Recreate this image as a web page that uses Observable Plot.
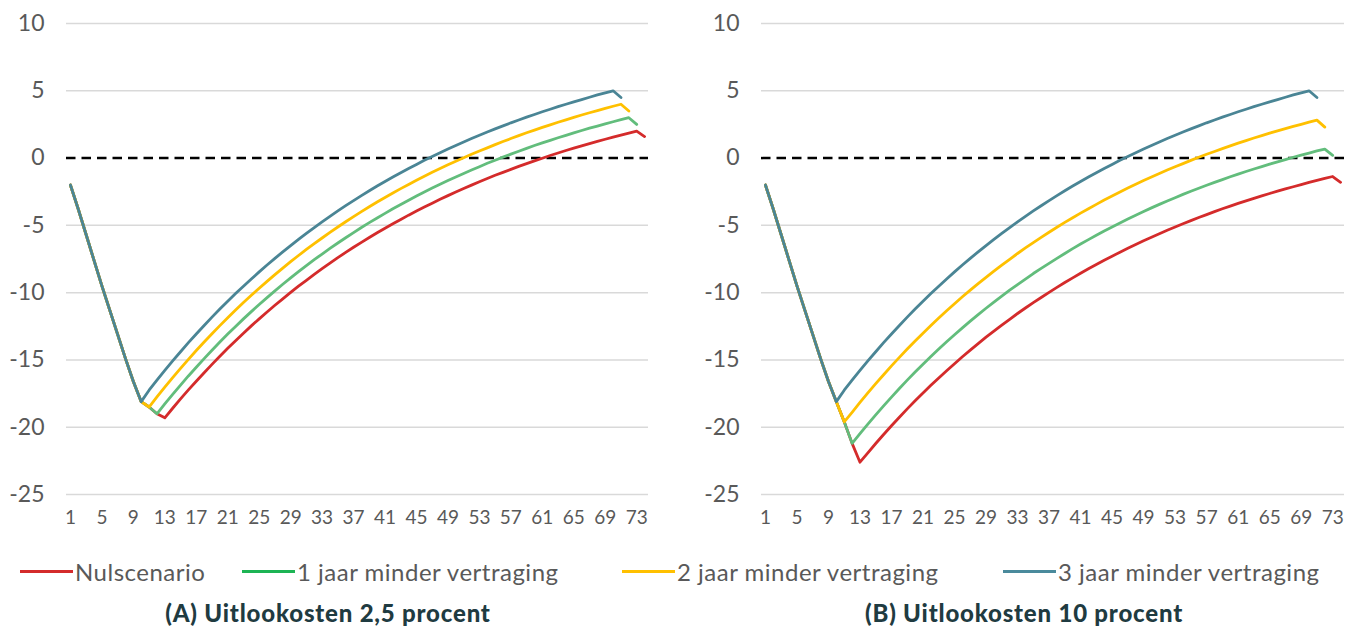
<!DOCTYPE html>
<html>
<head>
<meta charset="utf-8">
<script src="https://cdn.jsdelivr.net/npm/d3@7"></script>
<script src="https://cdn.jsdelivr.net/npm/@observablehq/plot@0.6"></script>
<style>
  body { margin: 0; background: #fff; }
  #root { position: relative; width: 1358px; height: 630px; overflow: hidden; font-family: "Lato", "Open Sans", sans-serif; }
  .panel { position: absolute; top: 0; }
  .legend-item { position: absolute; top: 556px; height: 30px; display: flex; align-items: center; white-space: nowrap; }
  .sw { width: 53px; height: 3px; margin-right: 2px; }
  .lbl { font-size: 24px; letter-spacing: 0.5px; color: #595959; }
  .title { position: absolute; top: 598px; font-weight: 900; font-size: 24px; letter-spacing: 0.8px; color: #1f3b41; transform: translateX(-50%); white-space: nowrap; }
</style>
</head>
<body>
<div id="root"></div>
<script>
// ---- data ----
const seriesNames = ["Nulscenario", "1 jaar minder vertraging", "2 jaar minder vertraging", "3 jaar minder vertraging"];
const lineColors = ["#d42b2b", "#62bd7c", "#ffc000", "#4a8595"];
const legendColors = ["#d42b2b", "#1db454", "#ffc000", "#4a8a9c"];
const panelTitles = ["(A) Uitlookosten 2,5 procent", "(B) Uitlookosten 10 procent"];
const xTicks = [1, 5, 9, 13, 17, 21, 25, 29, 33, 37, 41, 45, 49, 53, 57, 61, 65, 69, 73];
const yTicks = [-25, -20, -15, -10, -5, 0, 5, 10];

// Panel A: uitlookosten 2,5 procent (year 1 .. 74)
const redA = [-2.0,-3.8,-5.7,-7.6,-9.5,-11.3,-13.1,-14.9,-16.6,-18.1,-18.5,-19.0,-19.3,
  -18.59,-17.90,-17.23,-16.58,-15.95,-15.33,-14.73,-14.14,-13.57,-13.02,-12.47,-11.95,-11.44,-10.94,-10.46,-9.98,-9.52,-9.08,-8.64,-8.22,
  -7.81,-7.40,-7.01,-6.63,-6.26,-5.90,-5.55,-5.21,-4.88,-4.56,-4.24,-3.94,-3.64,-3.35,-3.06,-2.79,-2.52,-2.26,-2.01,-1.76,
  -1.52,-1.28,-1.06,-0.84,-0.62,-0.41,-0.21,-0.01,0.19,0.38,0.56,0.74,0.91,1.08,1.24,1.40,1.56,1.71,1.86,2.00,1.6];
const greenA = [-2.0,-3.8,-5.7,-7.6,-9.5,-11.3,-13.1,-14.9,-16.6,-18.1,-18.5,-19.0,
  -18.27,-17.56,-16.87,-16.19,-15.54,-14.90,-14.28,-13.67,-13.08,-12.51,-11.95,-11.41,-10.88,-10.37,-9.87,-9.38,-8.90,-8.44,-7.99,-7.55,
  -7.13,-6.71,-6.31,-5.92,-5.54,-5.16,-4.80,-4.45,-4.11,-3.77,-3.45,-3.13,-2.82,-2.52,-2.23,-1.95,-1.67,-1.40,-1.14,-0.89,
  -0.64,-0.39,-0.16,0.07,0.29,0.51,0.72,0.93,1.13,1.32,1.51,1.69,1.87,2.05,2.22,2.38,2.54,2.70,2.85,3.00,2.5];
const yellowA = [-2.0,-3.8,-5.7,-7.6,-9.5,-11.3,-13.1,-14.9,-16.6,-18.1,-18.5,
  -17.75,-17.02,-16.32,-15.63,-14.96,-14.30,-13.67,-13.05,-12.45,-11.86,-11.29,-10.74,-10.20,-9.67,-9.16,-8.66,-8.18,-7.70,-7.24,-6.79,
  -6.36,-5.94,-5.52,-5.12,-4.73,-4.35,-3.98,-3.62,-3.27,-2.93,-2.60,-2.27,-1.96,-1.65,-1.35,-1.06,-0.78,-0.50,-0.24,0.02,
  0.28,0.53,0.76,1.00,1.23,1.45,1.67,1.88,2.08,2.28,2.47,2.66,2.84,3.02,3.20,3.37,3.53,3.69,3.85,4.00,3.5];
const blueA = [-2.0,-3.8,-5.7,-7.6,-9.5,-11.3,-13.1,-14.9,-16.6,-18.1,
  -17.25,-16.50,-15.78,-15.07,-14.39,-13.72,-13.07,-12.44,-11.82,-11.22,-10.64,-10.07,-9.52,-8.98,-8.46,-7.95,-7.45,-6.97,-6.50,-6.04,
  -5.59,-5.16,-4.74,-4.33,-3.93,-3.54,-3.16,-2.79,-2.43,-2.08,-1.74,-1.41,-1.09,-0.78,-0.47,-0.17,0.12,0.40,0.67,0.94,
  1.20,1.45,1.69,1.94,2.17,2.39,2.62,2.83,3.04,3.24,3.44,3.63,3.82,4.00,4.18,4.35,4.52,4.69,4.85,5.00,4.5];

// Panel B: uitlookosten 10 procent (year 1 .. 74)
const redB = [-2.0,-3.8,-5.7,-7.6,-9.5,-11.3,-13.1,-14.9,-16.6,-18.1,-19.6,-21.2,-22.6,
  -21.90,-21.21,-20.54,-19.89,-19.26,-18.64,-18.04,-17.46,-16.89,-16.34,-15.80,-15.28,-14.76,-14.27,-13.79,-13.31,-12.86,-12.41,-11.98,-11.55,
  -11.14,-10.74,-10.36,-9.98,-9.61,-9.25,-8.90,-8.56,-8.23,-7.91,-7.59,-7.29,-6.99,-6.70,-6.42,-6.14,-5.88,-5.62,-5.37,-5.12,
  -4.88,-4.65,-4.42,-4.20,-3.98,-3.77,-3.57,-3.37,-3.18,-2.99,-2.81,-2.63,-2.46,-2.29,-2.13,-1.97,-1.81,-1.66,-1.51,-1.37,-1.8];
const greenB = [-2.0,-3.8,-5.7,-7.6,-9.5,-11.3,-13.1,-14.9,-16.6,-18.1,-19.6,-21.2,
  -20.47,-19.77,-19.08,-18.41,-17.76,-17.12,-16.50,-15.90,-15.32,-14.75,-14.19,-13.65,-13.13,-12.62,-12.12,-11.63,-11.16,-10.70,-10.26,-9.82,
  -9.40,-8.99,-8.58,-8.20,-7.82,-7.45,-7.09,-6.73,-6.39,-6.06,-5.74,-5.42,-5.12,-4.82,-4.53,-4.25,-3.97,-3.70,-3.44,-3.19,
  -2.95,-2.70,-2.47,-2.24,-2.02,-1.81,-1.60,-1.39,-1.19,-1.00,-0.81,-0.63,-0.45,-0.28,-0.11,0.06,0.22,0.37,0.53,0.67,0.2];
const yellowB = [-2.0,-3.8,-5.7,-7.6,-9.5,-11.3,-13.1,-14.9,-16.6,-18.1,-19.6,
  -18.89,-18.16,-17.45,-16.76,-16.10,-15.44,-14.81,-14.19,-13.59,-13.01,-12.44,-11.89,-11.35,-10.82,-10.31,-9.81,-9.33,-8.86,-8.40,-7.95,
  -7.52,-7.09,-6.68,-6.28,-5.89,-5.51,-5.14,-4.78,-4.43,-4.09,-3.76,-3.44,-3.12,-2.82,-2.52,-2.23,-1.95,-1.67,-1.41,-1.15,
  -0.89,-0.64,-0.41,-0.17,0.06,0.28,0.49,0.70,0.91,1.11,1.30,1.49,1.67,1.85,2.02,2.19,2.35,2.51,2.67,2.82,2.3];
const blueB = [-2.0,-3.8,-5.7,-7.6,-9.5,-11.3,-13.1,-14.9,-16.6,-18.1,
  -17.25,-16.50,-15.78,-15.07,-14.39,-13.72,-13.07,-12.44,-11.82,-11.22,-10.64,-10.07,-9.52,-8.98,-8.46,-7.95,-7.45,-6.97,-6.50,-6.04,
  -5.59,-5.16,-4.74,-4.33,-3.93,-3.54,-3.16,-2.79,-2.43,-2.08,-1.74,-1.41,-1.09,-0.78,-0.47,-0.17,0.12,0.40,0.67,0.94,
  1.20,1.45,1.69,1.94,2.17,2.39,2.62,2.83,3.04,3.24,3.44,3.63,3.82,4.00,4.18,4.35,4.52,4.69,4.85,5.00,4.5];

// ---- build ----
function toRows(seriesList) {
  const rows = [];
  seriesList.forEach((vals, k) => vals.forEach((v, i) => rows.push({ jaar: i + 1, waarde: v, serie: seriesNames[k] })));
  return rows;
}

function panel(seriesList, width, marginLeft, marginRight) {
  const rows = toRows(seriesList);
  return Plot.plot({
    width, height: 540,
    marginLeft, marginRight, marginTop: 23, marginBottom: 46,
    style: { fontFamily: "Lato, 'Open Sans', sans-serif", color: "#595959", background: "transparent", overflow: "visible" },
    x: { domain: [0.5, 74.5] },
    y: { domain: [-25, 10] },
    color: { domain: seriesNames, range: lineColors },
    marks: [
      Plot.ruleY(yTicks.filter(d => d !== 0), { stroke: "#d9d9d9", strokeWidth: 1.5 }),
      Plot.ruleY([0], { stroke: "#000", strokeWidth: 2.5, strokeDasharray: "9.5,6" }),
      Plot.axisY({ ticks: yTicks, tickSize: 0, tickPadding: 22, fontSize: 23, label: null, tickFormat: d => String(d) }),
      Plot.axisX({ ticks: xTicks, tickSize: 0, tickPadding: 16, fontSize: 19, label: null, tickFormat: d => String(d) }),
      Plot.line(rows, { x: "jaar", y: "waarde", z: "serie", stroke: "serie", strokeWidth: 2.8, strokeLinejoin: "round" })
    ]
  });
}

const root = document.getElementById("root");
const pA = panel([redA, greenA, yellowA, blueA], 679, 66, 31);
pA.classList.add("panel"); pA.style.left = "0px";
root.appendChild(pA);
const pB = panel([redB, greenB, yellowB, blueB], 678, 81, 14);
pB.classList.add("panel"); pB.style.left = "680px";
root.appendChild(pB);

// legend
const legendX = [20, 242, 622, 1003];
seriesNames.forEach((name, i) => {
  const item = document.createElement("div");
  item.className = "legend-item";
  item.style.left = legendX[i] + "px";
  item.innerHTML = `<div class="sw" style="background:${legendColors[i]}"></div><span class="lbl">${name}</span>`;
  root.appendChild(item);
});

// panel titles
const titleX = [328, 1024];
panelTitles.forEach((t, i) => {
  const d = document.createElement("div");
  d.className = "title";
  d.style.left = titleX[i] + "px";
  d.textContent = t;
  root.appendChild(d);
});
</script>
</body>
</html>
